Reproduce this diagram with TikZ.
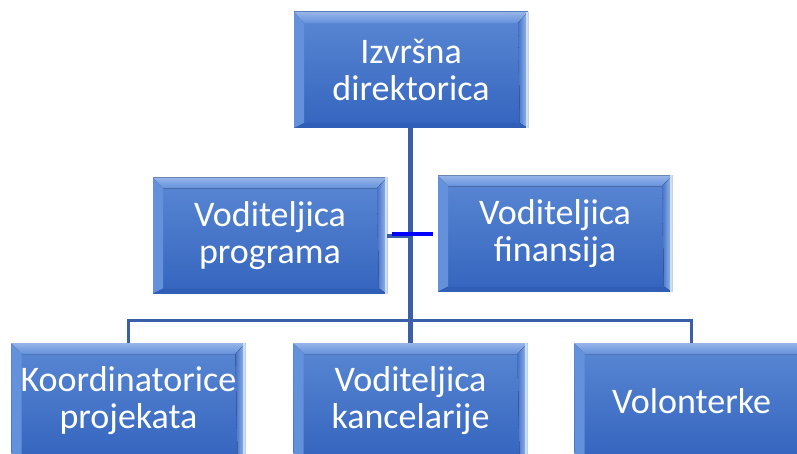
\documentclass[tikz,border=0pt]{standalone}
\usepackage{fontspec}
\setmainfont{Carlito}
\definecolor{boxtop}{RGB}{90,136,212}
\definecolor{boxbot}{RGB}{52,100,190}
\definecolor{bevlight}{RGB}{150,180,232}
\definecolor{bevleft}{RGB}{100,145,220}
\definecolor{bevright}{RGB}{70,115,200}
\definecolor{bevedge}{RGB}{200,222,250}
\definecolor{bevbot}{RGB}{48,94,182}
\definecolor{linecol}{RGB}{58,94,168}
\definecolor{brightblue}{RGB}{0,0,255}
\tikzset{
  orgbox/.style={rectangle, minimum width=234pt, minimum height=116pt, inner sep=0pt,
    text=white, align=center, font=\fontsize{36}{37}\selectfont,
    top color=boxtop, bottom color=boxbot,
    path picture={
      \coordinate (nw) at (path picture bounding box.north west);
      \coordinate (ne) at (path picture bounding box.north east);
      \coordinate (sw) at (path picture bounding box.south west);
      \coordinate (se) at (path picture bounding box.south east);
      \fill[top color=bevlight, bottom color=bevleft] (nw) -- (ne) -- ([xshift=-10pt,yshift=-11pt]ne) -- ([xshift=10pt,yshift=-11pt]nw) -- cycle;
      \fill[bevleft] (nw) -- ([xshift=10pt,yshift=-11pt]nw) -- ([xshift=10pt,yshift=5pt]sw) -- (sw) -- cycle;
      \fill[bevbot] (sw) -- ([xshift=10pt,yshift=5pt]sw) -- ([xshift=-8pt,yshift=5pt]se) -- (se) -- cycle;
      \fill[left color=bevright, right color=bevedge!70!bevright] (ne) -- ([xshift=-10pt,yshift=-11pt]ne) -- ([xshift=-8pt,yshift=5pt]se) -- (se) -- cycle;
      \fill[bevedge] ([xshift=-2.5pt]ne) rectangle (se);
    }},
  conn/.style={draw=linecol, line width=3pt},
  trunk/.style={draw=linecol, line width=5pt},
  stub/.style={draw=linecol, line width=4pt},
  brightline/.style={draw=brightblue, line width=3.5pt}
}
\begin{document}
\begin{tikzpicture}[x=1pt,y=-1pt]
\clip (0,0) rectangle (797,454);
\fill[white] (0,0) rectangle (797,454);
\coordinate (bus) at (410.5,320);
\coordinate (b1) at (392,234);
\coordinate (b2) at (433,234);
\node[orgbox] (top) at (411,70) {Izvršna\\direktorica};
\node[orgbox] (ml) at (270,235.5) {Voditeljica\\programa};
\node[orgbox] (mr) at (555,233.5) {Voditeljica\\finansija};
\node[orgbox] (bl) at (128.5,401) {Koordinatorice\\projekata};
\node[orgbox] (bm) at (410.5,401) {Voditeljica\\kancelarije};
\node[orgbox] (br) at (691.5,401) {Volonterke};
\draw[trunk] (top.south -| bus) -- (bm.north -| bus);
\draw[conn] (bl.north) |- (bus) -| (br.north);
\draw[stub] ([yshift=-1pt]ml.east) -- ([yshift=-1pt]ml.east -| bus);
\draw[brightline] (b1) -- (b2);
\end{tikzpicture}
\end{document}
